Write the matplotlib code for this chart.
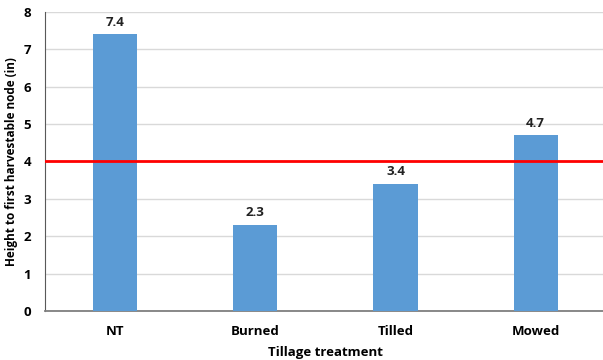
import matplotlib
matplotlib.use("Agg")
import matplotlib.pyplot as plt

categories = ["NT", "Burned", "Tilled", "Mowed"]
heights = [7.4, 2.3, 3.4, 4.7]
threshold = 4
yticks = [0, 1, 2, 3, 4, 5, 6, 7, 8]

plt.rcParams["font.family"] = ["Open Sans", "DejaVu Sans"]
plt.rcParams["font.weight"] = "bold"

fig = plt.figure(figsize=(6.03, 3.6), dpi=100)
ax = fig.add_axes([0.0746, 0.136, 0.93, 0.831])

x = list(range(len(categories)))
ax.bar(x, heights, width=0.315, color="#5B9BD5", zorder=3)
for xi, h in zip(x, heights):
    ax.text(xi, h + 0.15, f"{h}", ha="center", va="bottom",
            fontsize=9.5, fontweight="bold", color="#222222")

ax.axhline(threshold, color="#FF0000", linewidth=2.0, zorder=4)

ax.set_xlim(-0.5, 3.5)
ax.set_ylim(0, 8)
ax.set_yticks(yticks)
ax.set_xticks(x)
ax.set_xticklabels(categories, fontsize=9.5, fontweight="bold")
ax.tick_params(axis="y", labelsize=9.5, length=0, pad=10)
ax.tick_params(axis="x", length=0, pad=10)
for lbl in ax.get_yticklabels():
    lbl.set_fontweight("bold")

ax.grid(axis="y", color="#D9D9D9", linewidth=1.0, zorder=0)
ax.set_axisbelow(True)
for side in ("top", "right"):
    ax.spines[side].set_visible(False)
ax.spines["left"].set_color("#595959")
ax.spines["bottom"].set_color("#7F7F7F")
ax.spines["bottom"].set_linewidth(1.3)

ax.set_xlabel("Tillage treatment", fontsize=9.5, fontweight="bold", labelpad=6)
ax.set_ylabel("Height to first harvestable node (in)", fontsize=8.5,
              fontweight="bold", labelpad=4)

fig.savefig("out.png", dpi=100)
